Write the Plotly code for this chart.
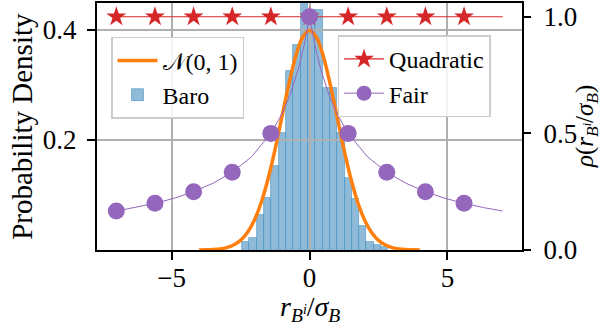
import plotly.graph_objects as go

# ---------------- data ----------------
# Histogram of "Baro" (density), 20 equal bins
bin_left = -2.44
bin_width = 0.265
baro_density = [0.014, 0.022, 0.064, 0.095, 0.152, 0.213, 0.326, 0.373, 0.50, 0.437,
                0.437, 0.294, 0.294, 0.213, 0.131, 0.093, 0.043, 0.014, 0.010, 0.006]

# N(0,1) curve
norm_x = [-4.0, -3.75, -3.5, -3.25, -3.0, -2.75, -2.5, -2.25, -2.0, -1.75, -1.5, -1.25, -1.0,
          -0.75, -0.5, -0.25, 0.0, 0.25, 0.5, 0.75, 1.0, 1.25, 1.5, 1.75, 2.0, 2.25, 2.5,
          2.75, 3.0, 3.25, 3.5, 3.75, 4.0]
norm_y = [0.0001, 0.0004, 0.0009, 0.0020, 0.0044, 0.0091, 0.0175, 0.0317, 0.0540, 0.0863,
          0.1295, 0.1826, 0.2420, 0.3011, 0.3521, 0.3867, 0.3989, 0.3867, 0.3521, 0.3011,
          0.2420, 0.1826, 0.1295, 0.0863, 0.0540, 0.0317, 0.0175, 0.0091, 0.0044, 0.0020,
          0.0009, 0.0004, 0.0001]

# Weight functions (right axis)
marker_x = [-7.0, -5.6, -4.2, -2.8, -1.4, 0.0, 1.4, 2.8, 4.2, 5.6]
quad_marker_y = [1.0, 1.0, 1.0, 1.0, 1.0, 1.0, 1.0, 1.0, 1.0, 1.0]
fair_marker_y = [0.167, 0.2, 0.25, 0.333, 0.5, 1.0, 0.5, 0.333, 0.25, 0.2]

quad_line_x = [-7.0, 7.0]
quad_line_y = [1.0, 1.0]

fair_line_x = [-7.0, -6.3, -5.6, -4.9, -4.2, -3.5, -2.8, -2.1, -1.4, -1.0, -0.7, -0.4, -0.2,
               0.0, 0.2, 0.4, 0.7, 1.0, 1.4, 2.1, 2.8, 3.5, 4.2, 4.9, 5.6, 6.3, 7.0]
fair_line_y = [0.167, 0.182, 0.2, 0.222, 0.25, 0.286, 0.333, 0.4, 0.5, 0.583, 0.667, 0.778,
               0.875, 1.0, 0.875, 0.778, 0.667, 0.583, 0.5, 0.4, 0.333, 0.286, 0.25, 0.222,
               0.2, 0.182, 0.167]

x_ticks = [-5, 0, 5]
left_ticks = [0.2, 0.4]
right_ticks = [0.0, 0.5, 1.0]

x_title = "<i>r</i><sub><i>B</i><sup><i>i</i></sup></sub>/<i>σ</i><sub><i>B</i></sub>"
left_title = "Probability Density"
right_title = "<i>ρ</i>(<i>r</i><sub><i>B</i><sup><i>i</i></sup></sub>/<i>σ</i><sub><i>B</i></sub>)"

# ---------------- styles ----------------
FONT = "Liberation Serif, Times New Roman, DejaVu Serif, serif"
C_BLUE_FILL = "#8fbbd9"
C_ORANGE = "#ff7f0e"
C_RED = "#d62728"
C_PURPLE = "#9467bd"
GRID = "#b0b0b0"

bin_centers = [bin_left + bin_width * (i + 0.5) for i in range(len(baro_density))]

fig = go.Figure()

# bars on their own (bottom) subplot so that the grid of the main subplot lies above them
fig.add_trace(go.Bar(
    x=bin_centers, y=baro_density, width=bin_width,
    marker=dict(color=C_BLUE_FILL, line=dict(color="rgba(31,119,180,0.55)", width=0.8)),
    name="Baro", xaxis="x", yaxis="y", legend="legend", legendrank=2,
))

fig.add_trace(go.Scatter(
    x=norm_x, y=norm_y, mode="lines", line=dict(color=C_ORANGE, width=3.5, shape="spline"),
    name="𝒩(0, 1)", xaxis="x2", yaxis="y2", legend="legend", legendrank=1,
))

# Quadratic
fig.add_trace(go.Scatter(
    x=quad_line_x, y=quad_line_y, mode="lines", line=dict(color=C_RED, width=1.2),
    showlegend=False, xaxis="x2", yaxis="y3", hoverinfo="skip",
))
fig.add_trace(go.Scatter(
    x=marker_x, y=quad_marker_y, mode="markers",
    marker=dict(symbol="star", size=15, color=C_RED),
    showlegend=False, xaxis="x2", yaxis="y3",
))
# Fair
fig.add_trace(go.Scatter(
    x=fair_line_x, y=fair_line_y, mode="lines", line=dict(color=C_PURPLE, width=1),
    showlegend=False, xaxis="x2", yaxis="y3", hoverinfo="skip",
))
fig.add_trace(go.Scatter(
    x=marker_x, y=fair_marker_y, mode="markers",
    marker=dict(symbol="circle", size=17, color=C_PURPLE),
    showlegend=False, xaxis="x2", yaxis="y3",
))
# legend entries (line + marker)
fig.add_trace(go.Scatter(
    x=[None], y=[None], mode="lines+markers", name="Quadratic",
    line=dict(color=C_RED, width=1.2), marker=dict(symbol="star", size=15, color=C_RED),
    xaxis="x2", yaxis="y3", legend="legend2", legendrank=1,
))
fig.add_trace(go.Scatter(
    x=[None], y=[None], mode="lines+markers", name="Fair",
    line=dict(color=C_PURPLE, width=1), marker=dict(symbol="circle", size=15, color=C_PURPLE),
    xaxis="x2", yaxis="y3", legend="legend2", legendrank=2,
))

XR = [-7.7, 7.7]
YR_L = [0, 0.449]
YR_R = [0, 1.059]

leg_common = dict(
    bgcolor="rgba(255,255,255,0.85)", bordercolor="#cccccc", borderwidth=1.5,
    font=dict(family=FONT, size=24, color="black"), xanchor="left", yanchor="top",
    tracegroupgap=0, itemclick=False, itemwidth=40,
)

TICKFONT = dict(family=FONT, size=27, color="black")

fig.update_layout(
    width=608, height=333,
    margin=dict(l=97, r=86, t=3, b=83),
    paper_bgcolor="white", plot_bgcolor="rgba(0,0,0,0)",
    font=dict(family=FONT, size=25, color="black"),
    showlegend=True,
    bargap=0,
    xaxis=dict(domain=[0, 1], range=XR, visible=False, anchor="y", automargin=False),
    yaxis=dict(domain=[0, 1], range=YR_L, visible=False, anchor="x", automargin=False),
    xaxis2=dict(
        domain=[0, 1], range=XR, anchor="y2", automargin=False,
        tickvals=x_ticks, ticks="outside", ticklen=8, tickwidth=1.5, tickcolor="black",
        showgrid=True, gridcolor=GRID, gridwidth=1.5, zeroline=False,
        showline=True, linecolor="black", linewidth=2, mirror=True,
        tickfont=TICKFONT, ticklabelstandoff=-5,
    ),
    yaxis2=dict(
        domain=[0, 1], range=YR_L, anchor="x2", automargin=False,
        tickvals=left_ticks, tickformat=".1f", ticks="outside", ticklen=8, tickwidth=1.5,
        tickcolor="black",
        showgrid=True, gridcolor=GRID, gridwidth=1.5, zeroline=False,
        showline=True, linecolor="black", linewidth=2, mirror=True,
        tickfont=TICKFONT, ticklabelstandoff=5,
    ),
    yaxis3=dict(
        range=YR_R, anchor="x2", overlaying="y2", side="right", automargin=False,
        tickvals=right_ticks, tickformat=".1f", ticks="outside", ticklen=8, tickwidth=1.5,
        tickcolor="black", showgrid=False, zeroline=False, showline=False,
        tickfont=TICKFONT, ticklabelstandoff=7,
    ),
    legend=dict(x=0.033, y=0.863, **leg_common),
    legend2=dict(x=0.566, y=0.869, **leg_common),
    annotations=[
        dict(text=x_title, xref="paper", yref="paper", x=0.5, y=-0.238,
             xanchor="center", yanchor="middle", showarrow=False,
             font=dict(family=FONT, size=28, color="black")),
        dict(text=left_title, xref="paper", yref="paper", x=-0.178, y=0.5,
             xanchor="center", yanchor="middle", textangle=-90, showarrow=False,
             font=dict(family=FONT, size=29, color="black")),
        dict(text=right_title, xref="paper", yref="paper", x=1.152, y=0.5,
             xanchor="center", yanchor="middle", textangle=-90, showarrow=False,
             font=dict(family=FONT, size=25, color="black")),
    ],
)

fig.write_html("out.html", config={"displayModeBar": False},
               post_script="document.body.style.margin='0';")
